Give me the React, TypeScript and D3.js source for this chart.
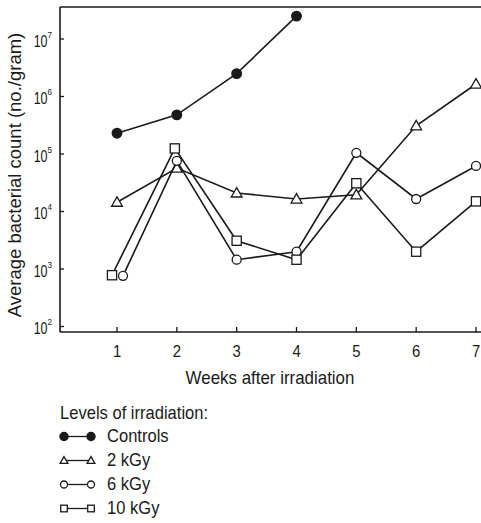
import React from "react";
import * as d3 from "d3";

const weeks = [1, 2, 3, 4, 5, 6, 7];
const controls = [2.3e5, 4.8e5, 2.5e6, 2.5e7];
const gy2 = [1.45e4, 5.7e4, 2.1e4, 1.65e4, 1.95e4, 3.1e5, 1.65e6];
const gy6 = [7.6e2, 7.6e4, 1.45e3, 2.0e3, 1.05e5, 1.65e4, 6.2e4];
const gy10 = [7.8e2, 1.25e5, 3.1e3, 1.45e3, 3.1e4, 2.0e3, 1.5e4];
const yTickExps = [2, 3, 4, 5, 6, 7];
const seriesNames = ["Controls", "2 kGy", "6 kGy", "10 kGy"];

const W = 481;
const H = 523;
const left = 60;
const top = 7;
const bottom = 332;
const right = 481;
const font = "'Liberation Sans', Arial, Helvetica, sans-serif";
const ink = "#1a1a1a";

const x = d3.scaleLinear().domain([1, 7]).range([117, 476]);
const y = d3.scaleLog().domain([1e2, 1e7]).range([326.5, 39]);

type Kind = "filled" | "triangle" | "circle" | "square";

function Marker({ kind, cx, cy, k = 1 }: { kind: Kind; cx: number; cy: number; k?: number }) {
  const sw = 1.3;
  if (kind === "filled") return <circle cx={cx} cy={cy} r={4.8 * k} fill={ink} stroke={ink} strokeWidth={sw} />;
  if (kind === "circle") return <circle cx={cx} cy={cy} r={4.5 * k} fill="#fff" stroke={ink} strokeWidth={sw} />;
  if (kind === "square") {
    const h = 4.6 * k;
    return <rect x={cx - h} y={cy - h} width={2 * h} height={2 * h} fill="#fff" stroke={ink} strokeWidth={sw} />;
  }
  const s = 5.4 * k;
  const p = `M${cx},${cy - s}L${cx + s},${cy + s * 0.75}L${cx - s},${cy + s * 0.75}Z`;
  return <path d={p} fill="#fff" stroke={ink} strokeWidth={sw} />;
}

function T({
  x: tx,
  y: ty,
  size,
  sx = 0.94,
  anchor = "start",
  rotate = 0,
  children,
}: {
  x: number;
  y: number;
  size: number;
  sx?: number;
  anchor?: string;
  rotate?: number;
  children: React.ReactNode;
}) {
  return (
    <text
      transform={`translate(${tx},${ty}) rotate(${rotate}) scale(${sx},1)`}
      fontSize={size}
      textAnchor={anchor as any}
      fill={ink}
    >
      {children}
    </text>
  );
}

const series: { name: string; values: number[]; kind: Kind; dx: number[] }[] = [
  { name: seriesNames[0], values: controls, kind: "filled", dx: [0, 0, 0, 0] },
  { name: seriesNames[1], values: gy2, kind: "triangle", dx: [0, 0, 0, 0, 0, 0, 0] },
  { name: seriesNames[2], values: gy6, kind: "circle", dx: [6, 0, 0, 0, 0, 0, 0] },
  { name: seriesNames[3], values: gy10, kind: "square", dx: [-5, -2, 0, 0, 0, 0, 0] },
];

const legendKs = [0.85, 0.72, 0.78, 0.72];

export default function App() {
  const line = d3
    .line<[number, number]>()
    .x((d) => d[0])
    .y((d) => d[1]);

  return (
    <svg
      width={W}
      height={H}
      style={{ position: "absolute", left: 0, top: 0, background: "#fff" }}
      fontFamily={font}
    >
      <rect width={W} height={H} fill="#fff" />
      {/* frame */}
      <line x1={left} x2={right} y1={top} y2={top} stroke={ink} strokeWidth={1.5} />
      <line x1={left} x2={left} y1={top} y2={bottom} stroke={ink} strokeWidth={1.6} />
      <line x1={left} x2={right} y1={bottom} y2={bottom} stroke={ink} strokeWidth={1.6} />

      {/* y ticks */}
      {yTickExps.map((e) => {
        const yy = y(Math.pow(10, e));
        return (
          <g key={e}>
            <line x1={left} x2={left + 4} y1={yy} y2={yy} stroke={ink} strokeWidth={1.3} />
            <T x={47.5} y={yy + 7.5} size={16} sx={0.78} anchor="end">
              10
            </T>
            <T x={47.5} y={yy - 1.5} size={9.5} sx={0.85}>
              {e}
            </T>
          </g>
        );
      })}

      {/* x ticks */}
      {weeks.map((w) => (
        <g key={w}>
          <line x1={x(w)} x2={x(w)} y1={bottom} y2={bottom - 5} stroke={ink} strokeWidth={1.3} />
          <T x={x(w)} y={357} size={16.5} sx={0.9} anchor="middle">
            {w}
          </T>
        </g>
      ))}

      <T x={270} y={384} size={18} sx={0.94} anchor="middle">
        Weeks after irradiation
      </T>
      <T x={21} y={175} size={18.5} sx={1} anchor="middle" rotate={-90}>
        Average bacterial count (no./gram)
      </T>

      {/* series */}
      {series.map((s) => {
        const pts: [number, number][] = s.values.map((v, i) => [x(weeks[i]) + s.dx[i], y(v)]);
        return (
          <g key={s.name}>
            <path d={line(pts) || ""} fill="none" stroke={ink} strokeWidth={1.6} />
            {pts.map((p, i) => (
              <Marker key={i} kind={s.kind} cx={p[0]} cy={p[1]} />
            ))}
          </g>
        );
      })}

      {/* legend */}
      <T x={60} y={419} size={18} sx={0.92}>
        Levels of irradiation:
      </T>
      {series.map((s, i) => {
        const base = 442 + i * 24;
        const cy = base - 5.5;
        return (
          <g key={s.name}>
            <line x1={64} x2={91} y1={cy} y2={cy} stroke={ink} strokeWidth={1.3} />
            <Marker kind={s.kind} cx={64} cy={cy} k={legendKs[i]} />
            <Marker kind={s.kind} cx={91} cy={cy} k={legendKs[i]} />
            <T x={107} y={base} size={18} sx={0.92}>
              {s.name}
            </T>
          </g>
        );
      })}
    </svg>
  );
}
